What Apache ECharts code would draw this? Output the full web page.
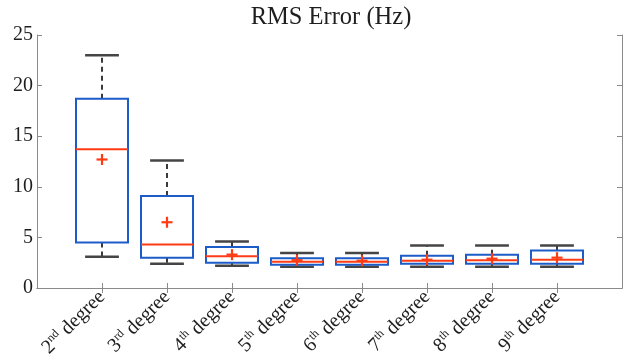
<!DOCTYPE html>
<html>
<head>
<meta charset="utf-8">
<script src="https://cdn.jsdelivr.net/npm/echarts@6/dist/echarts.min.js"></script>
<style>
  html, body { margin: 0; padding: 0; background: #fff; }
  #chart { width: 628px; height: 360px; }
</style>
</head>
<body>
<div id="chart"></div>
<script>
// Polynomial degree of each fit
var categories = ['2nd degree', '3rd degree', '4th degree', '5th degree',
                  '6th degree', '7th degree', '8th degree', '9th degree'];
// Box statistics of the RMS error (Hz)
var lowerWhisker = [3.1, 2.4, 2.2, 2.1, 2.1, 2.1, 2.1, 2.1];
var quartile1    = [4.5, 3.0, 2.5, 2.3, 2.3, 2.4, 2.4, 2.4];
var median       = [13.7, 4.3, 3.15, 2.6, 2.6, 2.7, 2.75, 2.8];
var quartile3    = [18.7, 9.1, 4.05, 2.95, 2.95, 3.2, 3.3, 3.7];
var upperWhisker = [23.0, 12.6, 4.6, 3.45, 3.45, 4.2, 4.2, 4.2];
var mean         = [12.7, 6.5, 3.3, 2.75, 2.7, 2.8, 2.9, 3.0];
var yTicks = [0, 5, 10, 15, 20, 25];

var FONT = '"Liberation Serif", "DejaVu Serif", serif';
var AXIS_COLOR = '#8a8a8a';
var BOX_COLOR = '#1c5cc8';
var MED_COLOR = '#ff3b14';
var WHISKER_COLOR = '#3a3a3a';

// category positions on the value axis: 2, 3, ..., 9 (axis spans 1..10)
var positions = categories.map(function (c, i) { return i + 2; });

var boxData = categories.map(function (c, i) {
  return [positions[i], lowerWhisker[i], quartile1[i], median[i],
          quartile3[i], upperWhisker[i], mean[i]];
});

function ordinalLabel(v) {
  var idx = positions.indexOf(v);
  if (idx < 0) return '';
  var m = categories[idx].match(/^(\d+)(\D+?) (.*)$/);
  return '{n|' + m[1] + '}{s|' + m[2] + '}{n| ' + m[3] + '}';
}

function renderBox(params, api) {
  var x = api.value(0);
  var lo = api.coord([x, api.value(1)]);
  var q1 = api.coord([x, api.value(2)]);
  var md = api.coord([x, api.value(3)]);
  var q3 = api.coord([x, api.value(4)]);
  var hi = api.coord([x, api.value(5)]);
  var mn = api.coord([x, api.value(6)]);
  var unit = api.size([1, 0])[0];
  var bh = unit * 0.4;   // half box width
  var ch = unit * 0.26;  // half cap width
  var cx = lo[0];
  var dashed = { stroke: WHISKER_COLOR, lineWidth: 2, lineDash: [5, 4] };
  var solid = { stroke: '#454545', lineWidth: 2.5 };
  return {
    type: 'group',
    children: [
      { type: 'line', shape: { x1: cx, y1: q3[1], x2: cx, y2: hi[1] }, style: dashed },
      { type: 'line', shape: { x1: cx, y1: q1[1], x2: cx, y2: lo[1] }, style: dashed },
      { type: 'line', shape: { x1: cx - ch, y1: hi[1], x2: cx + ch, y2: hi[1] }, style: solid },
      { type: 'line', shape: { x1: cx - ch, y1: lo[1], x2: cx + ch, y2: lo[1] }, style: solid },
      { type: 'rect', shape: { x: cx - bh, y: q3[1], width: 2 * bh, height: q1[1] - q3[1] },
        style: { fill: '#fff', stroke: BOX_COLOR, lineWidth: 2 } },
      { type: 'line', shape: { x1: cx - bh, y1: md[1], x2: cx + bh, y2: md[1] },
        style: { stroke: MED_COLOR, lineWidth: 2 } },
      { type: 'line', shape: { x1: cx - 5.5, y1: mn[1], x2: cx + 5.5, y2: mn[1] },
        style: { stroke: MED_COLOR, lineWidth: 2.2 } },
      { type: 'line', shape: { x1: cx, y1: mn[1] - 5.5, x2: cx, y2: mn[1] + 5.5 },
        style: { stroke: MED_COLOR, lineWidth: 2.2 } }
    ]
  };
}

var chart = echarts.init(document.getElementById('chart'), null, { renderer: 'canvas' });
chart.setOption({
  animation: false,
  backgroundColor: '#fff',
  title: {
    text: 'RMS Error (Hz)',
    left: 326, top: 0,
    textAlign: 'center',
    textStyle: { fontFamily: FONT, fontSize: 24.5, fontWeight: 'normal', color: '#1e1e1e' }
  },
  grid: { left: 37, right: 6, top: 35, bottom: 70, containLabel: false },
  xAxis: [{
    type: 'value', min: 1, max: 10, interval: 1, position: 'bottom',
    axisLine: { show: true, lineStyle: { color: AXIS_COLOR, width: 1 } },
    axisTick: { show: true, inside: true, length: 5, customValues: positions,
                lineStyle: { color: AXIS_COLOR } },
    splitLine: { show: false },
    axisLabel: {
      customValues: positions, rotate: 45, margin: 6,
      formatter: ordinalLabel,
      rich: {
        n: { fontFamily: FONT, fontSize: 20, color: '#1e1e1e', lineHeight: 22 },
        s: { fontFamily: FONT, fontSize: 12, color: '#1e1e1e', verticalAlign: 'top', lineHeight: 22 }
      }
    }
  }, {
    type: 'value', min: 1, max: 10, interval: 1, position: 'top',
    axisLine: { show: true, lineStyle: { color: AXIS_COLOR, width: 1 } },
    axisTick: { show: true, inside: true, length: 5, customValues: positions,
                lineStyle: { color: AXIS_COLOR } },
    axisLabel: { show: false },
    splitLine: { show: false }
  }],
  yAxis: [{
    type: 'value', min: 0, max: 25, interval: 5, position: 'left',
    axisLine: { show: true, lineStyle: { color: AXIS_COLOR, width: 1 } },
    axisTick: { show: true, inside: true, length: 5, lineStyle: { color: AXIS_COLOR } },
    splitLine: { show: false },
    axisLabel: {
      customValues: yTicks, margin: 4,
      fontFamily: FONT, fontSize: 20, color: '#1e1e1e'
    }
  }, {
    type: 'value', min: 0, max: 25, interval: 5, position: 'right',
    axisLine: { show: true, lineStyle: { color: AXIS_COLOR, width: 1 } },
    axisTick: { show: true, inside: true, length: 5, lineStyle: { color: AXIS_COLOR } },
    splitLine: { show: false },
    axisLabel: { show: false }
  }],
  series: [{
    type: 'custom',
    xAxisIndex: 0, yAxisIndex: 0,
    renderItem: renderBox,
    encode: { x: 0, y: [1, 2, 3, 4, 5, 6] },
    data: boxData,
    clip: false
  }]
});
</script>
</body>
</html>
